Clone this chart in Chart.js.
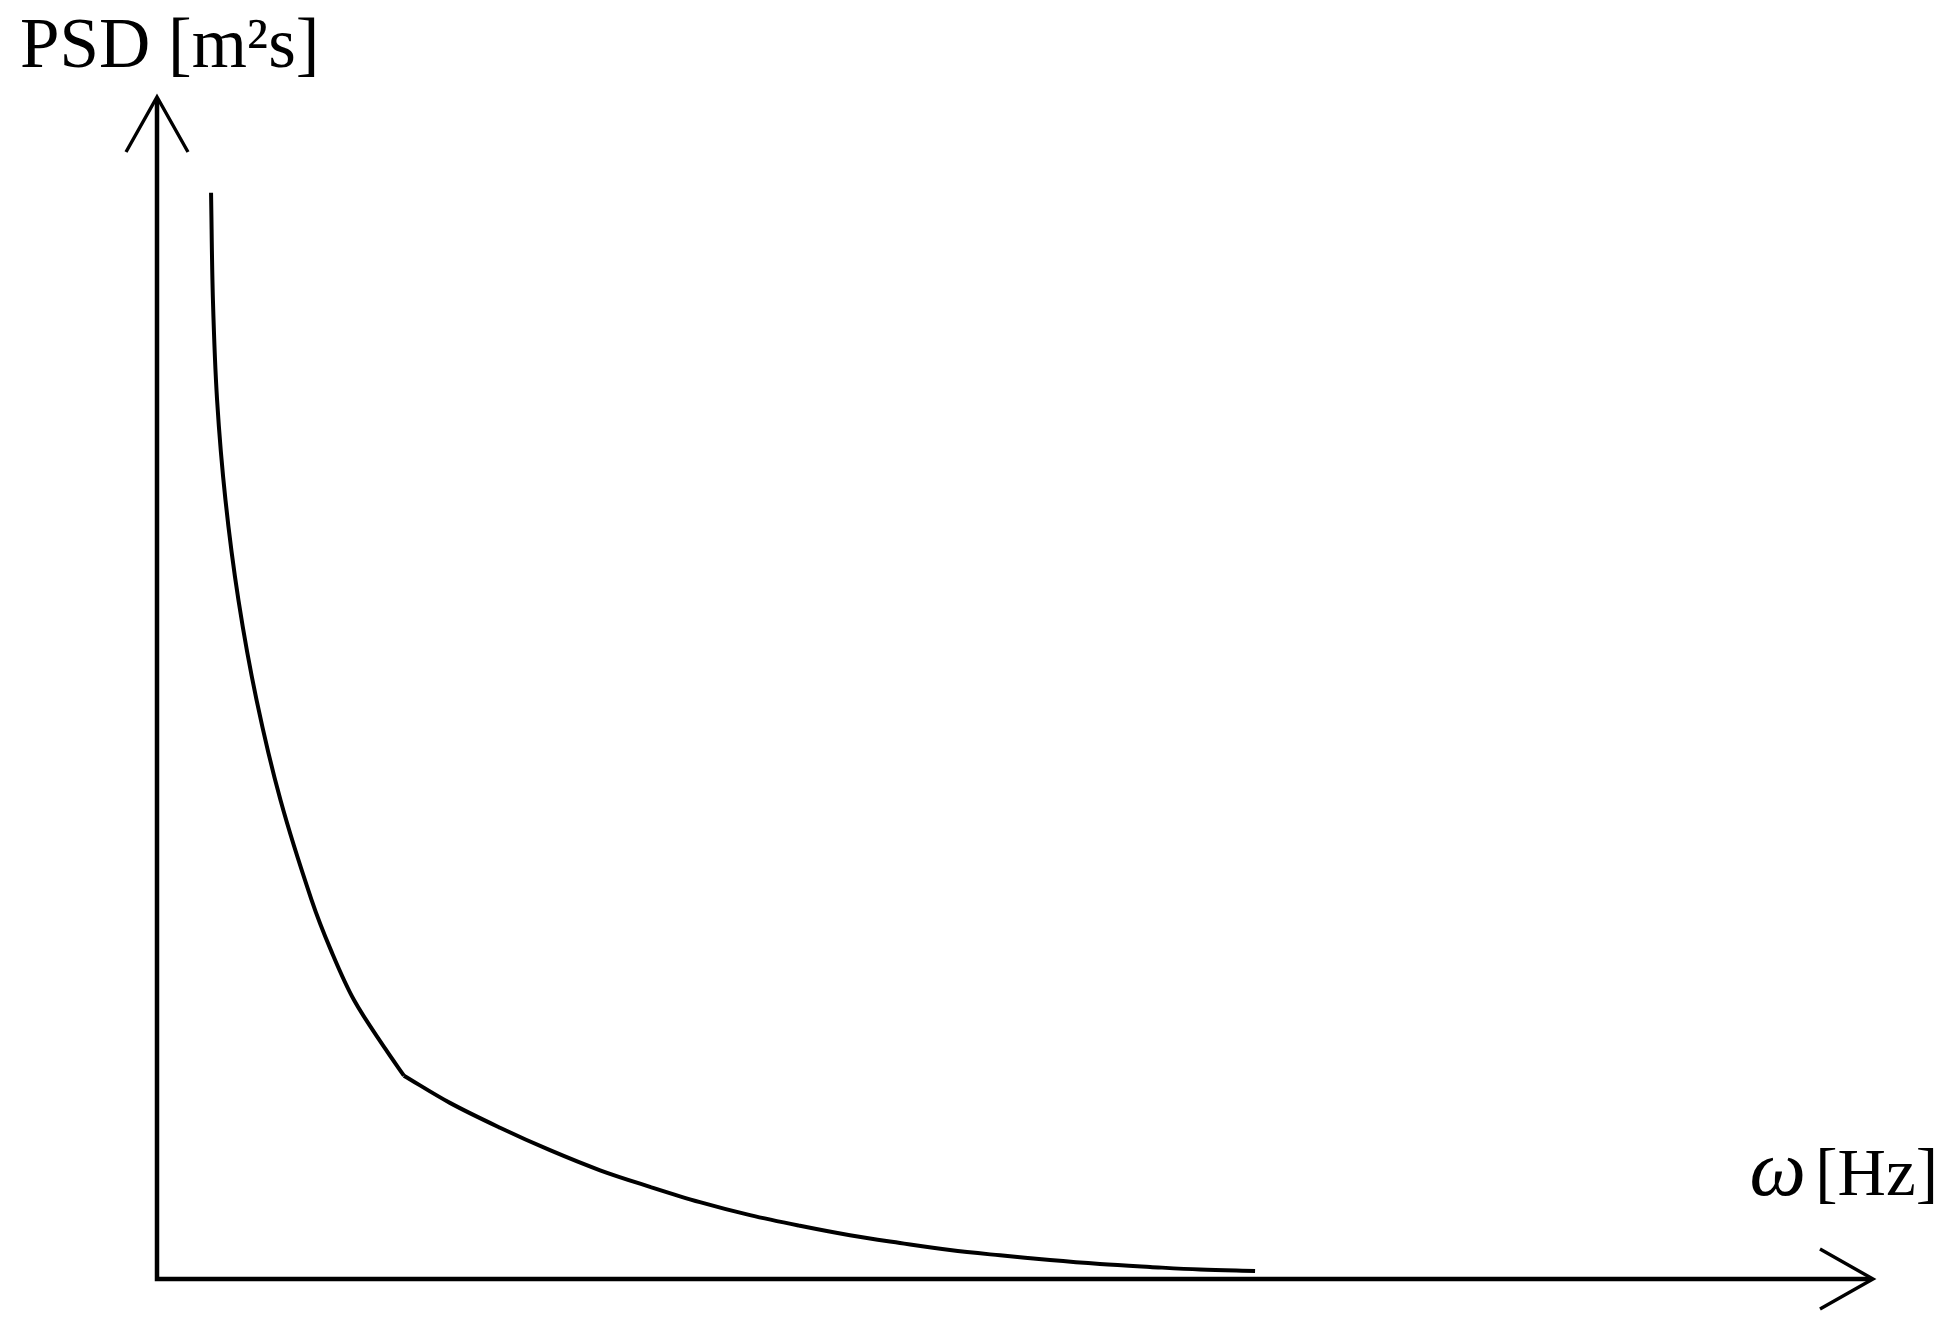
<!DOCTYPE html>
<html>
<head>
<meta charset="utf-8">
<title>PSD</title>
<script src="https://cdn.jsdelivr.net/npm/chart.js@4.4.0/dist/chart.umd.min.js"></script>
<style>
  html, body { margin: 0; padding: 0; background: #fff; }
  #wrap { width: 1950px; height: 1339px; position: relative; }
</style>
</head>
<body>
<div id="wrap"><canvas id="psdChart"></canvas></div>
<script>
// --- Data (arbitrary units 0..100) ---
// steep branch, down to the kink
const steepX = [3.15, 3.26, 3.50, 3.99, 4.75, 5.80, 7.20, 9.00, 10.14, 11.48, 13.34, 14.39];
const steepY = [91.9, 82.8, 74.4, 65.9, 57.4, 49.0, 40.5, 32.1, 27.8, 23.6, 19.4, 17.2];
// flat tail, from the kink on
const tailX = [14.39, 17.07, 19.99, 22.90, 25.82, 28.73, 31.64, 34.56, 37.47, 40.38, 43.30, 46.21, 49.13, 52.04, 54.95, 57.87, 60.78, 63.99];
const tailY = [17.2, 14.9, 12.8, 10.9, 9.2, 7.8, 6.5, 5.4, 4.5, 3.7, 3.05, 2.45, 2.0, 1.6, 1.27, 1.02, 0.80, 0.68];

const yLabel = "PSD [m²s]";
const xSymbol = "ω";
const xUnit = "[Hz]";

const toPoints = (xs, ys) => xs.map((x, i) => ({ x: x, y: ys[i] }));

// --- Axes with open arrow heads + labels ---
const arrowAxes = {
    id: "arrowAxes",
    afterDraw(chart) {
        const c = chart.ctx;
        const sx = chart.scales.x, sy = chart.scales.y;
        const x0 = sx.getPixelForValue(0), x1 = sx.getPixelForValue(100);
        const y0 = sy.getPixelForValue(0), y1 = sy.getPixelForValue(100);

        c.save();
        c.strokeStyle = "#000";
        c.lineCap = "butt";
        c.lineWidth = 4.5;
        c.beginPath();
        c.moveTo(x0, y1 + 2);
        c.lineTo(x0, y0);
        c.lineTo(x1 - 2, y0);
        c.stroke();

        c.lineWidth = 3.4;
        c.lineJoin = "miter";
        c.beginPath();
        c.moveTo(x0 - 31, y1 + 55);
        c.lineTo(x0, y1);
        c.lineTo(x0 + 31, y1 + 55);
        c.stroke();
        c.beginPath();
        c.moveTo(x1 - 53, y0 - 30);
        c.lineTo(x1, y0);
        c.lineTo(x1 - 53, y0 + 30);
        c.stroke();

        c.fillStyle = "#000";
        c.textBaseline = "alphabetic";
        c.textAlign = "left";
        c.font = "71px 'Liberation Serif'";
        c.fillText(yLabel, 20, 67);

        c.textAlign = "right";
        c.font = "67px 'Liberation Serif'";
        c.fillText(xUnit, 1938, 1195);
        c.font = "italic 80px 'Liberation Serif'";
        c.fillText(xSymbol, 1806, 1195);
        c.restore();
    }
};

const lineStyle = {
    borderColor: "#000",
    borderWidth: 4,
    pointRadius: 0,
    fill: false,
    tension: 0.35
};

const ctx = document.getElementById("psdChart").getContext("2d");
new Chart(ctx, {
    type: "line",
    data: {
        datasets: [
            Object.assign({ label: "steep", data: toPoints(steepX, steepY) }, lineStyle),
            Object.assign({ label: "tail", data: toPoints(tailX, tailY) }, lineStyle)
        ]
    },
    options: {
        responsive: true,
        maintainAspectRatio: false,
        animation: false,
        layout: { padding: { left: 157, right: 77, top: 97, bottom: 60 } },
        plugins: {
            legend: { display: false },
            tooltip: { enabled: false }
        },
        scales: {
            x: { type: "linear", min: 0, max: 100, display: false },
            y: { type: "linear", min: 0, max: 100, display: false }
        }
    },
    plugins: [arrowAxes]
});
</script>
</body>
</html>
